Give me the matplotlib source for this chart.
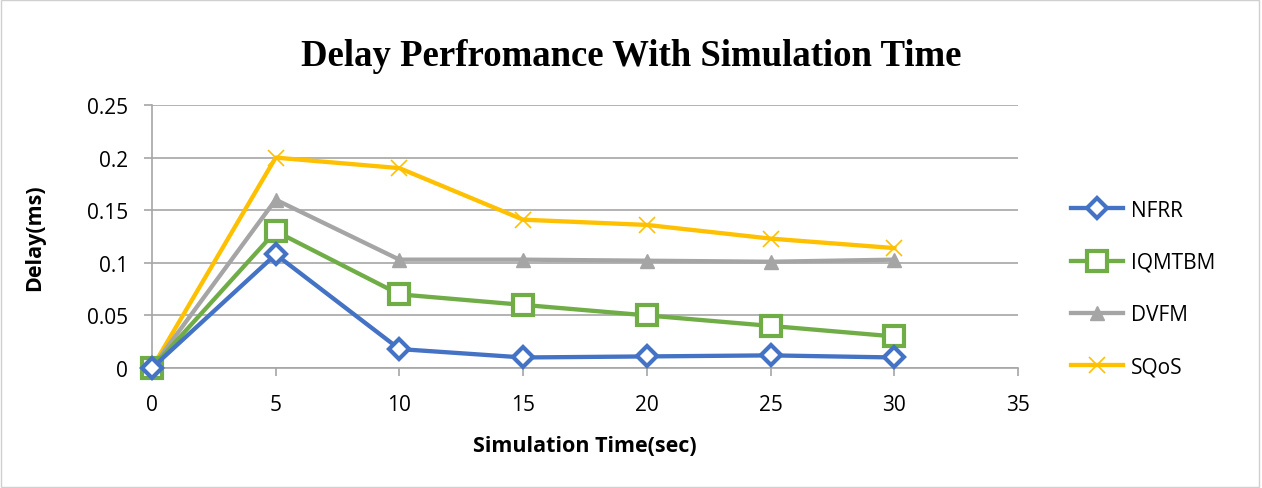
import matplotlib
matplotlib.use("Agg")
import matplotlib.pyplot as plt

# data
sim_time = [0, 5, 10, 15, 20, 25, 30]
nfrr = [0, 0.108, 0.018, 0.010, 0.011, 0.012, 0.010]
iqmtbm = [0, 0.130, 0.070, 0.060, 0.050, 0.040, 0.030]
dvfm = [0, 0.160, 0.103, 0.103, 0.102, 0.101, 0.103]
sqos = [0, 0.200, 0.190, 0.141, 0.136, 0.123, 0.114]

x_ticks = [0, 5, 10, 15, 20, 25, 30, 35]
y_ticks = [0, 0.05, 0.1, 0.15, 0.2, 0.25]
y_labels = ["0", "0.05", "0.1", "0.15", "0.2", "0.25"]

grid_col = "#A6A6A6"
fs = 15
fig = plt.figure(figsize=(12.62, 4.89), dpi=100)
fig.patches.append(plt.Rectangle((0.001, 0.002), 0.997, 0.995, transform=fig.transFigure,
                                 fill=False, edgecolor="#D0D0D0", linewidth=1))
ax = fig.add_axes([0.1204, 0.2454, 0.6863, 0.5378])

lw = 3.1
ax.plot(sim_time, sqos, color="#FFC000", lw=lw, marker="x", ms=11, mew=1.2, label="SQoS", zorder=3, clip_on=False)
ax.plot(sim_time, dvfm, color="#A5A5A5", lw=lw, marker="^", ms=9.5, label="DVFM", zorder=4, clip_on=False)
ax.plot(sim_time, iqmtbm, color="#70AD47", lw=lw, marker="s", ms=14.5, mfc="white", mew=3, label="IQMTBM", zorder=5, clip_on=False)
ax.plot(sim_time, nfrr, color="#4472C4", lw=lw, marker="D", ms=10.5, mfc="white", mew=3, label="NFRR", zorder=6, clip_on=False)

ax.set_xlim(0, 35)
ax.set_ylim(0, 0.25)
ax.set_xticks(x_ticks)
ax.set_yticks(y_ticks)
ax.set_yticklabels(y_labels)
ax.grid(axis="y", color=grid_col, lw=1.2)
ax.set_axisbelow(True)
for s in ["top", "right"]:
    ax.spines[s].set_visible(False)
for s in ["left", "bottom"]:
    ax.spines[s].set_color(grid_col)
    ax.spines[s].set_linewidth(1.2)
ax.tick_params(axis="both", colors=grid_col, length=6, width=1.2, labelsize=fs, labelcolor="black")
ax.tick_params(axis="y", pad=11)
ax.tick_params(axis="x", pad=13)
for lab in ax.get_xticklabels() + ax.get_yticklabels():
    lab.set_fontfamily("Open Sans")

ax.set_xlabel("Simulation Time(sec)", fontsize=15.5, fontweight="bold", family="Open Sans", labelpad=14)
ax.set_ylabel("Delay(ms)", fontsize=15.5, fontweight="bold", family="Open Sans", labelpad=30)
fig.text(0.5, 0.885, "Delay Perfromance With Simulation Time", ha="center", va="center",
         fontsize=26.5, fontweight="bold", family="Liberation Serif")

handles, labels = ax.get_legend_handles_labels()
leg = fig.legend(handles[::-1], labels[::-1], loc="center left", bbox_to_anchor=(0.834, 0.408),
                 frameon=False, labelspacing=1.5, handlelength=2.5, handletextpad=0.35,
                 prop={"family": "Open Sans", "size": fs})

fig.savefig("out.png", dpi=100)
